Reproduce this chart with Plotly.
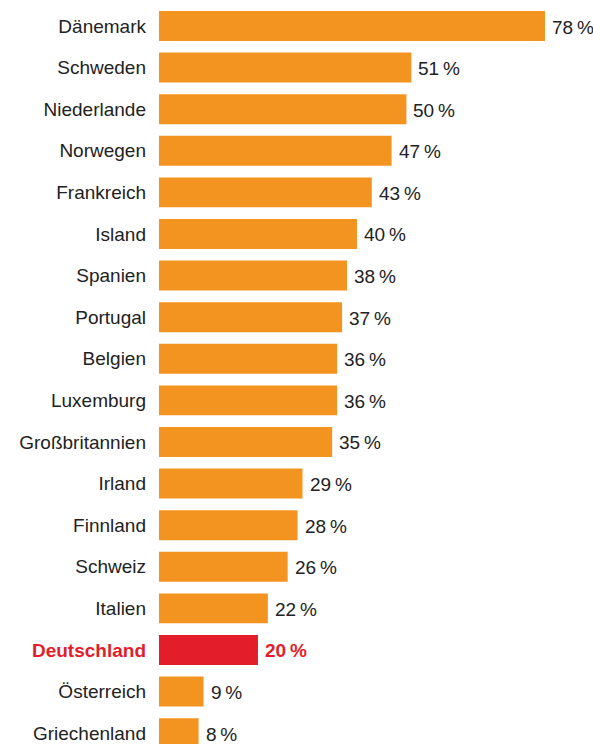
import plotly.graph_objects as go

countries = ["Dänemark", "Schweden", "Niederlande", "Norwegen", "Frankreich", "Island",
             "Spanien", "Portugal", "Belgien", "Luxemburg", "Großbritannien", "Irland",
             "Finnland", "Schweiz", "Italien", "Deutschland", "Österreich", "Griechenland"]
values = [78, 51, 50, 47, 43, 40, 38, 37, 36, 36, 35, 29, 28, 26, 22, 20, 9, 8]
highlight = "Deutschland"

ORANGE = "#F39420"
RED = "#E31E2A"
TEXT = "#222222"
FONT = "Liberation Sans"
FS = 19

colors = [RED if c == highlight else ORANGE for c in countries]
ticktext = [f"<b><span style='color:{RED}'>{c}</span></b>" if c == highlight else c for c in countries]

fig = go.Figure(go.Bar(
    x=values, y=list(range(len(countries))), orientation="h",
    marker=dict(color=colors, line=dict(width=0)), width=0.72,
    hoverinfo="skip",
))

for i, (c, v) in enumerate(zip(countries, values)):
    txt = f"{v}\u2009%"
    if c == highlight:
        txt = f"<b>{txt}</b>"
    fig.add_annotation(x=v, y=i, text=txt, xanchor="left", yanchor="middle",
                       xshift=5, yshift=-1, showarrow=False,
                       font=dict(family=FONT, size=FS, color=RED if c == highlight else TEXT))

fig.update_layout(
    width=593, height=744,
    margin=dict(l=159, r=0, t=0, b=0),
    paper_bgcolor="white", plot_bgcolor="white",
    showlegend=False,
    font=dict(family=FONT, size=FS, color=TEXT),
    xaxis=dict(range=[0, 87.7], visible=False, fixedrange=True),
    yaxis=dict(range=[17.26, -0.625], tickmode="array",
               tickvals=list(range(len(countries))), ticktext=ticktext,
               showgrid=False, zeroline=False, showline=False,
               ticks="", ticklabelstandoff=12, fixedrange=True,
               tickfont=dict(family=FONT, size=FS, color=TEXT)),
)

fig.write_html("out.html")
